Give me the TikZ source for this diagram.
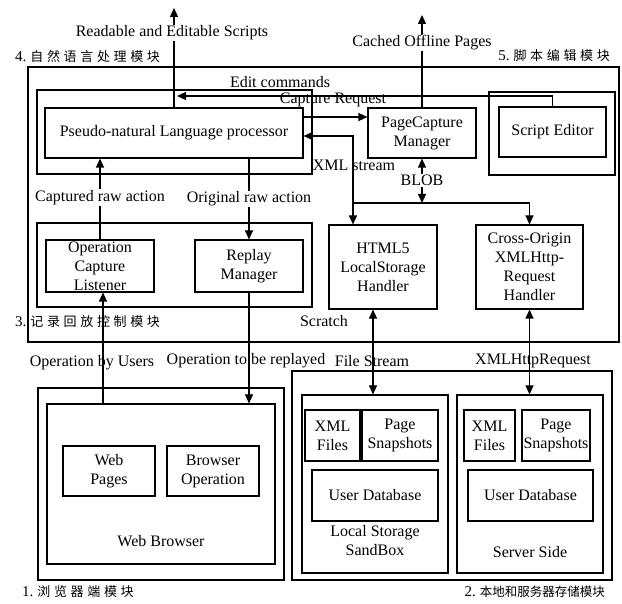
\documentclass[tikz,border=0pt]{standalone}
\usepackage{fontspec}
\setmainfont{Liberation Serif}
\newfontfamily\cjkfont[LetterSpace=28]{Noto Sans CJK SC}
\newfontfamily\cjktight{Noto Sans CJK SC}
\newcommand\numlbl[1]{{\normalfont\fontsize{15}{17}\selectfont #1}\kern4pt}
\usetikzlibrary{arrows.meta}
\begin{document}
\begin{tikzpicture}[x=1pt,y=-1pt,
  box/.style={draw, line width=1.1pt, inner sep=0pt, align=center, font=\fontsize{16}{19}\selectfont},
  lbl/.style={font=\fontsize{16}{19}\selectfont, inner sep=1pt, align=center},
  cn/.style={font=\cjkfont\fontsize{13}{15}\selectfont, inner sep=0pt},
  cnt/.style={font=\cjktight\fontsize{12.5}{14}\selectfont, inner sep=0pt},
  arr/.style={line width=1.1pt, -{Triangle[length=9pt,width=8pt]}},
  darr/.style={line width=1.1pt, {Triangle[length=9pt,width=8pt]}-{Triangle[length=9pt,width=8pt]}},
  ln/.style={line width=1.1pt}
]
\useasboundingbox (0,0) rectangle (622,604);

% frames
\node[box, minimum width=591pt, minimum height=275pt] (scratch) at (323.5,204.5) {};
\node[box, minimum width=275pt, minimum height=84pt] (nlpframe) at (174.5,132) {};
\node[box, minimum width=126pt, minimum height=83pt] (seframe) at (552,133.5) {};
\node[box, minimum width=275pt, minimum height=84pt] (rrframe) at (174.5,265) {};
\node[box, minimum width=246pt, minimum height=192pt] (wbouter) at (161,484) {};
\node[box, minimum width=228pt, minimum height=160pt] (wbinner) at (161,484) {};
\node[box, minimum width=320pt, minimum height=209pt] (stouter) at (452,475.5) {};
\node[box, minimum width=146pt, minimum height=178pt] (lss) at (375,484) {};
\node[box, minimum width=146pt, minimum height=178pt] (ss) at (530,484) {};

% boxes
\node[box, minimum width=258pt, minimum height=50pt] (pnl) at (174,133) {Pseudo-natural Language processor};
\node[box, minimum width=108pt, minimum height=50pt] (pcm) at (422,133) {PageCapture\\Manager};
\node[box, minimum width=107pt, minimum height=50pt] (se) at (552.5,132) {Script Editor};
\node[box, minimum width=108pt, minimum height=52pt] (ocl) at (100,266) {};
\node[lbl, inner sep=0pt] (ocltext) at (100,266) {Operation\\Capture\\Listener};
\node[box, minimum width=108pt, minimum height=52pt] (rm) at (249,266) {Replay\\Manager};
\node[box, minimum width=108pt, minimum height=84pt] (html5) at (383,267) {HTML5\\LocalStorage\\Handler};
\node[box, minimum width=107pt, minimum height=84pt] (xhr) at (529.5,267) {Cross-Origin\\XMLHttp-\\Request\\Handler};
\node[box, minimum width=92pt, minimum height=50pt] (wp) at (109,471) {Web\\Pages};
\node[box, minimum width=92pt, minimum height=50pt] (bo) at (213,471) {Browser\\Operation};
\node[box, minimum width=55pt, minimum height=51pt] (lxml) at (332.5,435.5) {XML\\Files};
\node[box, minimum width=76pt, minimum height=51pt] (lps) at (400,435.5) {Page\\Snapshots};
\node[box, minimum width=126pt, minimum height=51pt] (ludb) at (375,495.5) {User Database};
\node[box, minimum width=51pt, minimum height=51pt] (sxml) at (489.5,435.5) {XML\\Files};
\node[box, minimum width=68pt, minimum height=51pt] (sps) at (556,435.5) {Page\\Snapshots};
\node[box, minimum width=125pt, minimum height=51pt] (sudb) at (530.5,495.5) {User Database};

% frame labels
\node[lbl] (wbl) at (161,541) {Web Browser};
\node[lbl] (lssl) at (375,541) {Local Storage\\SandBox};
\node[lbl] (ssl) at (530,552) {Server Side};
\node[lbl] (scl) at (324,321) {Scratch};

% chinese labels
\node[cn, anchor=west] (c4) at (15,57) {\numlbl{4.}自然语言处理模块};
\node[cn, anchor=east] (c5) at (610,56) {\numlbl{5.}脚本编辑模块};
\node[cn, anchor=west] (c3) at (15,322) {\numlbl{3.}记录回放控制模块};
\node[cn, anchor=west] (c1) at (22,592) {\numlbl{1.}浏览器端模块};
\node[cnt, anchor=east] (c2) at (605,592) {\numlbl{2.}本地和服务器存储模块};

% coordinates
\coordinate (rtop) at (175,8);
\coordinate (ctop) at (423,15);
\coordinate (ec) at (177,96);
\coordinate (j) at (353,203);

% connectors
\draw[arr] (pnl.north) -- (pnl.north |- rtop);
\node[lbl, fill=white] at (172,33) {Readable and Editable Scripts};
\draw[arr] (pcm.north) -- (pcm.north |- ctop);
\node[lbl, fill=white] at (422,43) {Cached Offline Pages};
\draw[arr] (se.north) |- (ec);
\node[lbl] at (280,82) {Edit commands};
\draw[arr] (pnl.east |- 0,117) -- (pcm.west |- 0,117);
\node[lbl] at (333,100) {Capture Request};
\draw[darr] (pnl.east |- 0,136) -| (j |- html5.north);
\node[lbl] at (354,165) {XML stream};
\draw[darr] (pcm.south) -- (pcm.south |- j) node[lbl, midway, fill=white] {BLOB};
\draw[arr] (j) -| (xhr.north);
\draw[arr] (ocl.north) -- (pnl.south -| ocl.north) node[lbl, pos=0.52, fill=white] {Captured raw action};
\draw[arr] (pnl.south -| rm.north) -- (rm.north) node[lbl, pos=0.5, fill=white] {Original raw action};
\draw[arr] (wbinner.north -| 103,0) -- (ocl.south -| 103,0);
\node[lbl] at (92,363) {Operation by Users};
\draw[arr] (rm.south) -- (rm.south |- wbinner.north);
\node[lbl] at (246,361) {Operation to be replayed};
\draw[darr] (html5.south -| 373,0) -- (lss.north -| 373,0);
\node[lbl] at (372,361) {File Stream};
\draw[darr] (xhr.south) -- (ss.north -| xhr.south);
\node[lbl] at (533,361) {XMLHttpRequest};
\end{tikzpicture}
\end{document}
